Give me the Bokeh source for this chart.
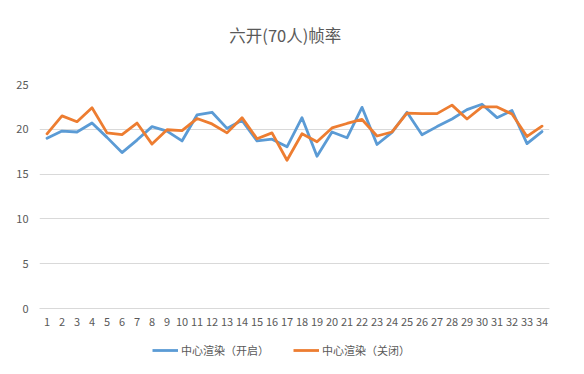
from bokeh.plotting import figure
from bokeh.layouts import column
from bokeh.models import FactorRange, Range1d, Legend, LegendItem, FixedTicker, ColumnDataSource
from bokeh.embed import file_html
from bokeh.resources import INLINE
from bokeh.core.properties import value

categories = [str(i) for i in range(1, 35)]
on_values = [19.0, 19.8, 19.7, 20.7, 19.1, 17.4, 18.8, 20.3, 19.8, 18.7,
             21.6, 21.9, 20.1, 21.0, 18.7, 18.9, 18.05, 21.3, 17.0, 19.7,
             19.05, 22.45, 18.3, 19.65, 21.9, 19.4, 20.3, 21.15, 22.2, 22.8,
             21.3, 22.1, 18.4, 19.75]
off_values = [19.5, 21.5, 20.85, 22.4, 19.6, 19.4, 20.7, 18.35, 19.95, 19.85,
              21.2, 20.6, 19.6, 21.3, 18.95, 19.6, 16.55, 19.5, 18.6, 20.15,
              20.65, 21.1, 19.25, 19.7, 21.8, 21.75, 21.75, 22.7, 21.15, 22.5,
              22.5, 21.7, 19.2, 20.35]
y_ticks = [0, 5, 10, 15, 20, 25]
title_text = "六开(70人)帧率"
series_names = ["中心渲染（开启）", "中心渲染（关闭）"]
colors = ["#5B9BD5", "#ED7D31"]

FONT = "Noto Sans CJK SC"
TXT = "#595959"
W = 576
LW = 2.8


def bare(fig):
    fig.outline_line_color = None
    fig.axis.visible = False
    fig.grid.grid_line_color = None
    fig.background_fill_color = "white"
    fig.border_fill_color = "white"


# --- title strip ---
pt = figure(width=W, height=60, x_range=Range1d(0, 1), y_range=Range1d(0, 1),
            output_backend="svg", toolbar_location=None,
            min_border=0, min_border_left=0, min_border_right=0, min_border_top=0, min_border_bottom=0)
bare(pt)
pt.text(x=[0.482], y=[0.42], text=[title_text], text_align="center", text_baseline="middle",
        text_font=value(FONT), text_font_size="16.5px", text_color=TXT)

# --- main chart ---
src = ColumnDataSource(dict(x=categories, on=on_values, off=off_values))
p = figure(width=W, height=278, x_range=FactorRange(factors=categories, range_padding=0),
           y_range=Range1d(0, 25), output_backend="svg", toolbar_location=None,
           min_border_left=39, min_border_right=27, min_border_top=24, min_border_bottom=30)
p.outline_line_color = None
p.background_fill_color = "white"
p.border_fill_color = "white"

r1 = p.line("x", "on", source=src, line_color=colors[0], line_width=LW, line_join="round", line_cap="round")
r2 = p.line("x", "off", source=src, line_color=colors[1], line_width=LW, line_join="round", line_cap="round")

p.xgrid.grid_line_color = None
p.ygrid.grid_line_color = "#D9D9D9"
p.ygrid.grid_line_width = 1
p.yaxis.ticker = FixedTicker(ticks=y_ticks)

for ax in (p.xaxis[0], p.yaxis[0]):
    ax.axis_line_color = None
    ax.major_tick_line_color = None
    ax.minor_tick_line_color = None
    ax.major_label_text_font = FONT
    ax.major_label_text_font_size = "11px"
    ax.major_label_text_color = TXT
p.xaxis.axis_line_color = "#D9D9D9"
p.xaxis.major_label_standoff = 3
p.yaxis.major_label_standoff = 5

# --- legend strip ---
pl = figure(width=W, height=28, x_range=Range1d(0, 1), y_range=Range1d(0, 1),
            output_backend="svg", toolbar_location=None,
            min_border=0, min_border_left=0, min_border_right=0, min_border_top=0, min_border_bottom=0)
bare(pl)
nan = float("nan")
l1 = pl.line(x=[nan, nan], y=[nan, nan], line_color=colors[0], line_width=LW)
l2 = pl.line(x=[nan, nan], y=[nan, nan], line_color=colors[1], line_width=LW)
legend = Legend(items=[LegendItem(label=series_names[0], renderers=[l1]),
                       LegendItem(label=series_names[1], renderers=[l2])],
                orientation="horizontal", location=(113, 8),
                label_text_font=FONT, label_text_font_size="11px", label_text_color=TXT,
                glyph_width=26, glyph_height=14, spacing=24, label_standoff=3,
                label_height=14,
                border_line_color=None, background_fill_alpha=0, padding=0, margin=0)
pl.add_layout(legend, "center")

layout = column(pt, p, pl, spacing=0)
open("out.html", "w").write(file_html(layout, INLINE))
